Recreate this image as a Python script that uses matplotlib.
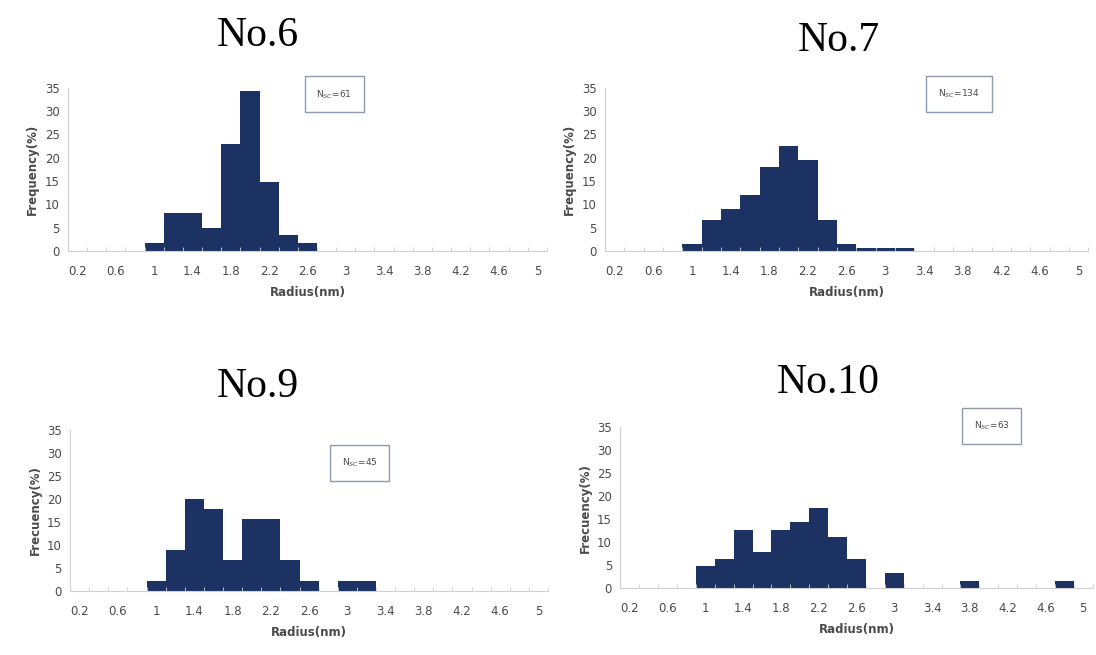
import matplotlib.pyplot as plt
import numpy as np

# radius bins (nm), one category per 0.2 nm
radius = [0.2, 0.4, 0.6, 0.8, 1.0, 1.2, 1.4, 1.6, 1.8, 2.0, 2.2, 2.4, 2.6,
          2.8, 3.0, 3.2, 3.4, 3.6, 3.8, 4.0, 4.2, 4.4, 4.6, 4.8, 5.0]

# frequency (%) per bin
freq_no6 = [0, 0, 0, 0, 1.6, 8.2, 8.2, 4.9, 23.0, 34.4, 14.8, 3.3, 1.6,
            0, 0, 0, 0, 0, 0, 0, 0, 0, 0, 0, 0]
freq_no7 = [0, 0, 0, 0, 1.5, 6.7, 9.0, 11.9, 17.9, 22.4, 19.4, 6.7, 1.5,
            0.7, 0.7, 0.7, 0, 0, 0, 0, 0, 0, 0, 0, 0]
freq_no9 = [0, 0, 0, 0, 2.2, 8.9, 20.0, 17.8, 6.7, 15.6, 15.6, 6.7, 2.2,
            0, 2.2, 2.2, 0, 0, 0, 0, 0, 0, 0, 0, 0]
freq_no10 = [0, 0, 0, 0, 4.8, 6.3, 12.7, 7.9, 12.7, 14.3, 17.5, 11.1, 6.3,
             0, 3.2, 0, 0, 0, 1.6, 0, 0, 0, 0, 1.6, 0]

titles = ["No.6", "No.7", "No.9", "No.10"]
ylabels = ["Frequency(%)", "Frequency(%)", "Frecuency(%)", "Frecuency(%)"]
nsc = ["61", "134", "45", "63"]

bar_color = "#1b3262"
axis_color = "#d0d0d0"
text_color = "#4a4a4a"

fig = plt.figure(figsize=(10.96, 6.55), dpi=100)

# [left, bottom, width, height] in figure fraction
positions = [
    [0.062, 0.617, 0.437, 0.249],
    [0.552, 0.617, 0.441, 0.249],
    [0.064, 0.098, 0.436, 0.246],
    [0.566, 0.102, 0.431, 0.246],
]
title_xy = [(0.235, 0.945), (0.765, 0.938), (0.235, 0.41), (0.756, 0.415)]
box_xy = [(0.305, 0.856), (0.875, 0.857), (0.328, 0.293), (0.905, 0.35)]

datasets = [freq_no6, freq_no7, freq_no9, freq_no10]
x = np.arange(len(radius))

for i, freq in enumerate(datasets):
    ax = fig.add_axes(positions[i])
    ax.bar(x, freq, width=1.0, color=bar_color, edgecolor="none")
    ax.set_xlim(-0.5, len(radius) - 0.5)
    ax.set_ylim(0, 35)
    ax.set_yticks(range(0, 36, 5))
    ax.set_xticks(x[::2])
    ax.set_xticklabels([f"{r:g}" for r in radius[::2]])
    ax.set_xticks(np.arange(-0.5, len(radius), 1), minor=True)
    ax.tick_params(axis="y", length=0, labelsize=8.5, colors=text_color, pad=6)
    ax.tick_params(axis="x", which="major", length=0, labelsize=8.5,
                   colors=text_color, pad=10)
    ax.tick_params(axis="x", which="minor", length=3, color=axis_color, direction="in")
    for side in ["top", "right"]:
        ax.spines[side].set_visible(False)
    for side in ["left", "bottom"]:
        ax.spines[side].set_color(axis_color)
    ax.set_xlabel("Radius(nm)", fontsize=8.5, fontweight="bold", color=text_color, labelpad=6)
    ax.set_ylabel(ylabels[i], fontsize=8.5, fontweight="bold", color=text_color, labelpad=4)

    fig.text(title_xy[i][0], title_xy[i][1], titles[i], ha="center", va="center",
             fontsize=30, family="Liberation Serif")
    fig.text(box_xy[i][0], box_xy[i][1], "N$_{SC}$=" + nsc[i], ha="center", va="center",
             fontsize=6.5, color=text_color,
             bbox=dict(boxstyle="square,pad=1.3", facecolor="white", edgecolor="#8c9aae",
                       linewidth=1.0))

fig.savefig("out.png", dpi=100)
